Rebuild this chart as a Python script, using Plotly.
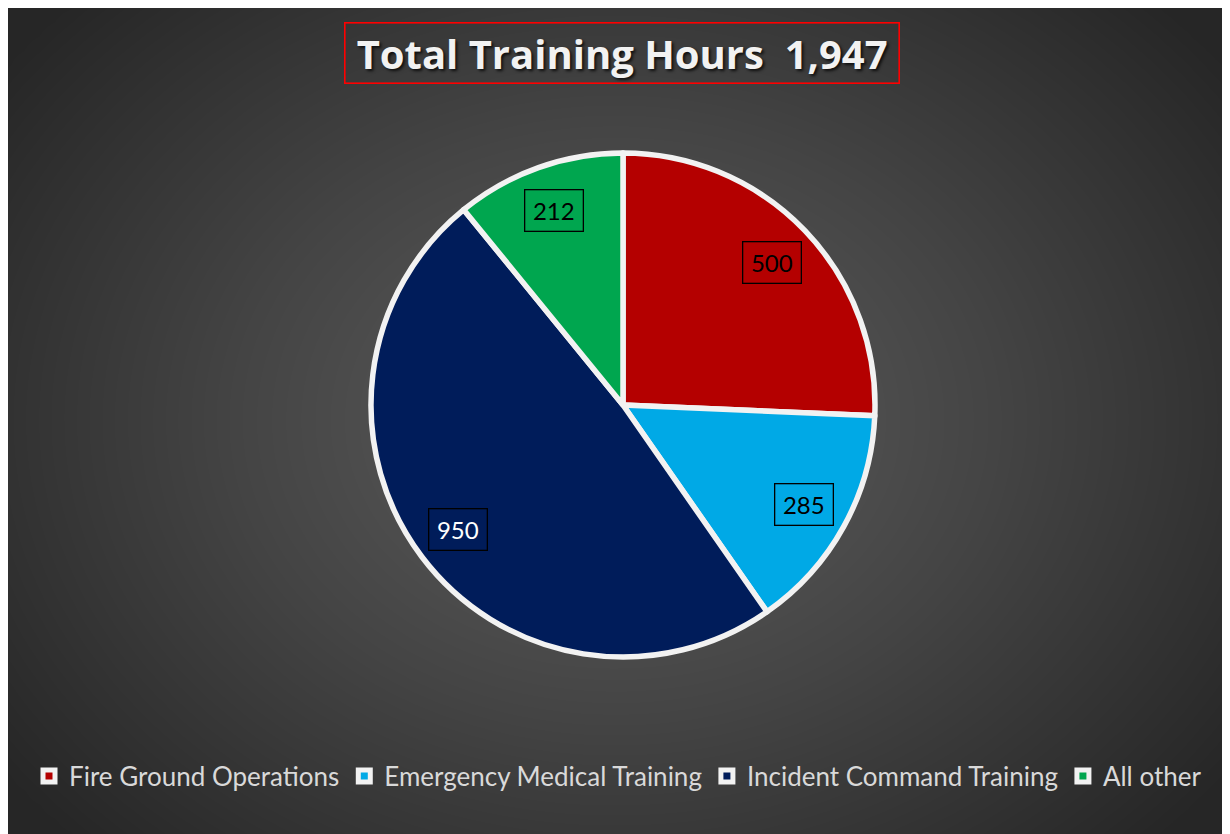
import numpy as np
import plotly.graph_objects as go

# ---- data ----
categories = ["Fire Ground Operations", "Emergency Medical Training",
              "Incident Command Training", "All other"]
hours = [500, 285, 950, 212]
slice_colors = ["#B40000", "#00A9E6", "#001C5A", "#00A64F"]
label_font_colors = ["#000000", "#000000", "#FFFFFF", "#000000"]
title_text = "Total Training Hours\u00a0\u00a0" + f"{sum(hours):,}"

# page adds an 8px body margin, so the figure is drawn 8px in from the window
W, H = 1222, 826
OFF = 8
FONT = "Lato"

# pie geometry (figure pixels)
cx, cy, R = 623 - OFF, 405 - OFF, 252

fig = go.Figure()

# ---- radial gradient background (decorative) ----
gx = np.linspace(0, W, 80)
gy = np.linspace(0, H, 60)
XX, YY = np.meshgrid(gx, gy)
d = np.sqrt(((XX - 607) / 760) ** 2 + ((YY - 412) / 600) ** 2)
d = np.clip(d, 0, 1)
fig.add_trace(go.Heatmap(
    x=gx, y=gy, z=d, zmin=0, zmax=1, zsmooth="best",
    colorscale=[[0, "#5e5e5e"], [0.5, "#444444"], [1, "#262626"]],
    showscale=False, hoverinfo="skip", xaxis="x", yaxis="y"))

# ---- pie ----
dx = R / W
dy = R / H
px_c = cx / W
py_c = 1 - cy / H
fig.add_trace(go.Pie(
    labels=categories, values=hours, sort=False, direction="clockwise",
    rotation=0, textinfo="none", hoverinfo="label+value",
    marker=dict(colors=slice_colors, line=dict(color="#F2F2F2", width=5.5)),
    domain=dict(x=[px_c - dx, px_c + dx], y=[py_c - dy, py_c + dy]),
    showlegend=True))

annotations = []
# data labels in boxes, positioned from the slice mid-angles
total = sum(hours)
cum = 0
for v, fc in zip(hours, label_font_colors):
    mid = (cum + v / 2) / total * 2 * np.pi
    cum += v
    r = 0.82 * R
    lx = cx + r * np.sin(mid)
    ly = cy - r * np.cos(mid)
    annotations.append(dict(
        x=lx / W, y=1 - ly / H, xref="paper", yref="paper",
        xanchor="center", yanchor="middle",
        text=f"{v:,}", showarrow=False,
        font=dict(family=FONT, size=24, color=fc),
        bordercolor="#000000", borderwidth=1.3, borderpad=0,
        width=57, height=40, align="center", valign="middle"))

# title box
annotations.append(dict(
    x=(622 - OFF) / W, y=1 - (53.5 - OFF) / H, xref="paper", yref="paper",
    xanchor="center", yanchor="middle",
    text=f"<b>{title_text}</b>", showarrow=False,
    font=dict(family="Open Sans", size=40, color="#F2F2F2",
              shadow="2px 2px 3px rgba(0,0,0,0.75)"),
    bordercolor="#FF0000", borderwidth=1.6, borderpad=0,
    width=553, height=59, align="center", valign="middle"))

fig.update_layout(
    width=W, height=H,
    margin=dict(l=0, r=0, t=0, b=0),
    paper_bgcolor="#262626",
    plot_bgcolor="rgba(0,0,0,0)",
    xaxis=dict(domain=[0, 1], range=[0, W], visible=False, fixedrange=True),
    yaxis=dict(domain=[0, 1], range=[H, 0], visible=False, fixedrange=True),
    annotations=annotations,
    legend=dict(orientation="h", x=(618 - OFF) / W, xanchor="center",
                y=1 - (776 - OFF) / H, yanchor="middle",
                font=dict(family=FONT, size=26, color="#D9D9D9"),
                bgcolor="rgba(0,0,0,0)", itemclick=False,
                itemdoubleclick=False),
    font=dict(family=FONT),
)

fig.write_html("out.html")
